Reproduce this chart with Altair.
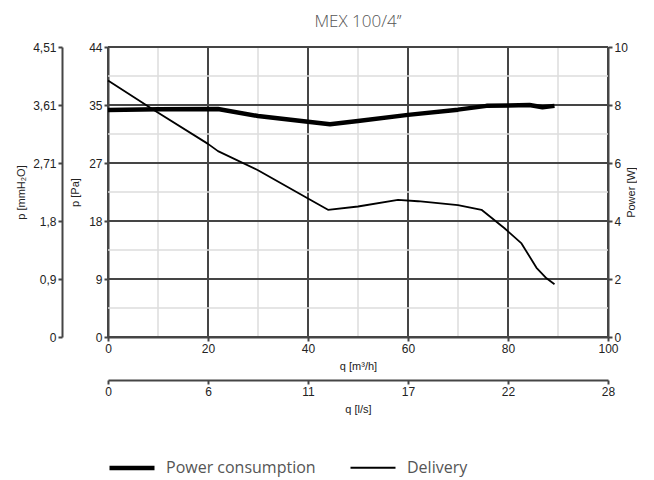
import json
import altair as alt
import pandas as pd

# ---- data ----
q_power = [0, 10, 22, 30, 40, 44.4, 50, 60, 70, 75.7, 84.3, 86.9, 89.3]
w_power = [7.83, 7.85, 7.86, 7.62, 7.42, 7.34, 7.45, 7.66, 7.84, 7.97, 8.0, 7.92, 7.97]

q_delivery = [0, 9, 20, 22, 30, 40, 44, 50, 58, 62, 70, 74.7, 79.3, 82.7, 85.7, 87.7, 89.3]
pa_delivery = [38.9, 34.5, 29.3, 28.2, 25.3, 21.0, 19.3, 19.8, 20.8, 20.6, 20.0, 19.3, 16.5, 14.2, 10.5, 8.9, 8.0]

series_names = ["Power consumption", "Delivery"]

x_ticks = [0, 20, 40, 60, 80, 100]
x_grid = [10, 30, 50, 70, 90, 0, 20, 40, 60, 80, 100]
ls_labels = ["0", "6", "11", "17", "22", "28"]

w_ticks = [0, 2, 4, 6, 8, 10]
y_grid = [1, 3, 5, 7, 9, 0, 2, 4, 6, 8, 10]
pa_labels = ["0", "9", "18", "27", "35", "44"]
mmh2o_labels = ["0", "0,9", "1,8", "2,71", "3,61", "4,51"]
pa_top = 44.0

# ---- tables ----
power_df = pd.DataFrame({"q": q_power, "w": w_power, "series": series_names[0]})
deliv_df = pd.DataFrame({"q": q_delivery, "pa": pa_delivery, "series": series_names[1]})
vgrid_df = pd.DataFrame({"value": x_grid, "major": [v % 20 == 0 for v in x_grid]})
hgrid_df = pd.DataFrame({"value": y_grid, "major": [v % 2 == 0 for v in y_grid]})

xs = alt.Scale(domain=[0, 100], nice=False, zero=False)
ys = alt.Scale(domain=[0, 10], nice=False, zero=False)

DARK = "#454545"
LIGHT = "#dcdcdc"
FONT = "Liberation Sans"

common = dict(
    domainColor=DARK, domainWidth=2, tickColor=DARK, tickWidth=2, tickSize=4,
    labelFont=FONT, labelFontSize=12, labelColor="#222", labelPadding=2,
    labelFlush=False,
    titleFont=FONT, titleFontSize=11, titleFontWeight="normal", titleColor="#222",
    grid=False,
)


def arr_expr(labels, step):
    return f"{json.dumps(labels)}[round(datum.value/{step})]"


sw_scale = alt.Scale(domain=series_names, range=[4.5, 1.8])
legend = alt.Legend(
    orient="none", legendX=-1, legendY=396, direction="horizontal", title=None,
    symbolType="stroke", symbolSize=2025, symbolStrokeColor="black",
    labelFont="Open Sans", labelFontSize=16, labelColor="#555",
    labelOffset=9, columnPadding=30, columns=2,
)

vgrid = alt.Chart(vgrid_df).mark_rule().encode(
    x=alt.X("value:Q", scale=xs, axis=alt.Axis(
        orient="bottom", offset=43, values=x_ticks,
        labelExpr=arr_expr(ls_labels, 20), title="q [l/s]", titlePadding=6, **common)),
    color=alt.condition("datum.major", alt.value(DARK), alt.value(LIGHT)),
    strokeWidth=alt.condition("datum.major", alt.value(2), alt.value(1.5)),
)

hgrid = alt.Chart(hgrid_df).mark_rule().encode(
    y=alt.Y("value:Q", scale=ys, axis=alt.Axis(
        orient="left", offset=46, values=w_ticks,
        labelExpr=arr_expr(mmh2o_labels, 2), title="p [mmH₂O]", titlePadding=6, **common)),
    color=alt.condition("datum.major", alt.value(DARK), alt.value(LIGHT)),
    strokeWidth=alt.condition("datum.major", alt.value(2), alt.value(1.5)),
)

delivery = alt.Chart(deliv_df).transform_calculate(
    u=f"datum.pa * 10 / {pa_top}"
).mark_line(color="black", strokeJoin="round").encode(
    x=alt.X("q:Q", scale=xs, axis=alt.Axis(
        orient="bottom", values=x_ticks, format="d", title="q [m³/h]", titlePadding=6, **common)),
    y=alt.Y("u:Q", scale=ys, axis=alt.Axis(
        orient="left", values=w_ticks, labelExpr=arr_expr(pa_labels, 2),
        title="p [Pa]", titlePadding=8, **common)),
    strokeWidth=alt.StrokeWidth("series:N", scale=sw_scale, legend=legend),
)

power = alt.Chart(power_df).mark_line(color="black", strokeJoin="round").encode(
    x=alt.X("q:Q", scale=xs, axis=None),
    y=alt.Y("w:Q", scale=ys, axis=alt.Axis(
        orient="right", values=w_ticks, format="d", title="Power [W]", titlePadding=9,
        titleAngle=270, titleBaseline="bottom", **common)),
    strokeWidth=alt.StrokeWidth("series:N", scale=sw_scale, legend=legend),
)

chart = alt.layer(vgrid, hgrid, delivery, power).resolve_scale(
    x="independent", y="independent", strokeWidth="shared"
).properties(
    width=500, height=290,
    padding={"left": 7, "top": 5, "right": 0, "bottom": 0},
    title=alt.TitleParams("MEX 100/4’’", font="Open Sans", fontSize=17, fontWeight=300,
                          color="#555", offset=10),
).configure_view(stroke=None)

chart.save("out.html", embed_options={"renderer": "svg", "actions": False})
